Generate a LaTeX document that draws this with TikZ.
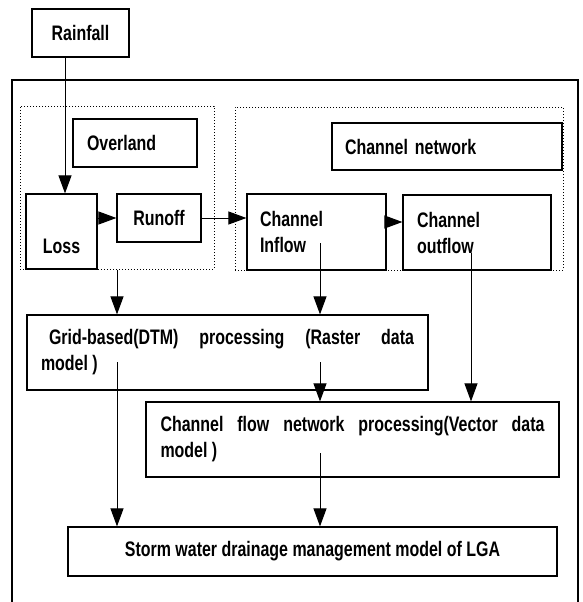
\documentclass[tikz,border=0pt]{standalone}
\usepackage{fontspec}
\setmainfont[FakeStretch=0.76]{Liberation Sans}
\usetikzlibrary{arrows.meta}
\begin{document}
\begin{tikzpicture}[x=1pt,y=-1pt,
  box/.style={draw, line width=1.2pt, inner sep=0pt, font=\bfseries\fontsize{21}{26}\selectfont},
  grp/.style={draw, dotted, line width=1pt, inner sep=0pt},
  arr/.style={line width=1pt, -{Triangle[length=18pt,width=13pt]}},
]
\useasboundingbox (0,0) rectangle (582,602);

% outer frame
\draw[line width=1.2pt] (12,602) -- (12,80) -- (578,80) -- (578,602);

% groups
\node[grp, minimum width=194pt, minimum height=163pt] (ovgrp) at (117,187.5) {};
\node[grp, minimum width=328pt, minimum height=163pt] (chgrp) at (399,188.5) {};

% boxes
\node[box, minimum width=97pt, minimum height=48pt] (rain) at (80.5,33) {Rainfall};
\node[box, inner xsep=14pt, text width=96pt, align=left, minimum height=48pt] (over) at (135,143) {Overland};
\node[box, inner xsep=13pt, text width=204pt, align=left, minimum height=47pt] (chnet) at (447,146.5) {Channel network};
\node[box, minimum width=71pt, minimum height=75pt] (loss) at (61.5,231.5) {\raisebox{0pt}[43pt][0pt]{Loss}};
\node[box, minimum width=84pt, minimum height=48pt] (runoff) at (159,218) {Runoff};
\node[box, inner xsep=13pt, text width=113pt, align=left, minimum height=76pt] (inflow) at (316.5,232) {Channel\\Inflow};
\node[box, inner xsep=14pt, text width=120pt, align=left, minimum height=75pt] (outflow) at (477,232.5) {Channel\\outflow};
\node[box, inner xsep=14pt, text width=373pt, align=justify, minimum height=75pt] (grid) at (227.5,352.5)
  {\hspace*{8pt}Grid-based(DTM) processing (Raster data\linebreak model )};
\node[box, inner xsep=14.5pt, text width=384pt, align=justify, minimum height=75pt] (chflow) at (352.5,439.5)
  {Channel flow network processing(Vector data\linebreak model )};
\node[box, minimum width=489pt, minimum height=49pt] (storm) at (312.5,551.5) {Storm water drainage management model of LGA};

% helper coordinates
\coordinate (xa) at (65,0);
\coordinate (ya) at (0,222);
\coordinate (inS) at (320,243);
\coordinate (outS) at (471,253);
\coordinate (gridA) at (117,362);
\coordinate (gridB) at (320,362);
\coordinate (chS) at (320,453);

% connectors
\draw[arr] (rain.south -| xa) -- (loss.north -| xa);
\draw[arr] (runoff.west -| loss.east) -- (runoff.west);
\draw[arr] (runoff.east) -- (runoff.east -| inflow.west);
\draw[arr] (inflow.east |- ya) -- (outflow.west |- ya);
\draw[arr] (ovgrp.south) -- (ovgrp.south |- grid.north);
\draw[arr] (inS) -- (inS |- grid.north);
\draw[arr] (outS) -- (outS |- chflow.north);
\draw[arr] (gridB) -- (gridB |- chflow.north);
\draw[arr] (gridA) -- (gridA |- storm.north);
\draw[arr] (chS) -- (chS |- storm.north);
\end{tikzpicture}
\end{document}
